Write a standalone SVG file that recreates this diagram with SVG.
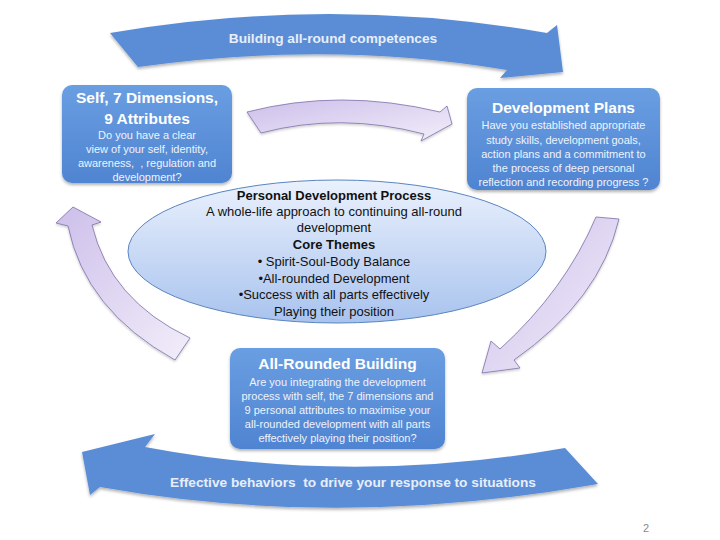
<svg xmlns="http://www.w3.org/2000/svg" width="720" height="540" viewBox="0 0 720 540">
<defs>
<style>
text{font-family:"Liberation Sans",Arial,sans-serif;text-anchor:middle}
.arr{fill:#5a8dd6;filter:url(#sh)}
.arrt{fill:#e8eef9;font-weight:bold;font-size:13.7px;white-space:pre}
.box{fill:url(#gb);filter:url(#sh)}
.bt{fill:#ffffff;font-weight:bold;font-size:15.5px}
.bb{fill:#eef3fc;font-size:11px}
.pur{fill:url(#gp);stroke:#7e6fa8;stroke-width:0.8;filter:url(#sh2)}
.et{fill:#111;font-size:13px}
.eb{font-weight:bold}
</style>
<linearGradient id="gb" x1="0" y1="0" x2="0" y2="1">
<stop offset="0" stop-color="#6a9ee2"/>
<stop offset="1" stop-color="#4f84d1"/>
</linearGradient>
<linearGradient id="ge" x1="0" y1="0" x2="0" y2="1">
<stop offset="0" stop-color="#eaf1fd"/>
<stop offset="1" stop-color="#a9c3ee"/>
</linearGradient>
<linearGradient id="gp" x1="0" y1="0" x2="1" y2="1">
<stop offset="0" stop-color="#cdbfea"/>
<stop offset="1" stop-color="#f2eefa"/>
</linearGradient>
<filter id="sh" x="-10%" y="-10%" width="120%" height="130%">
<feDropShadow dx="0" dy="2" stdDeviation="1.8" flood-color="#000" flood-opacity="0.3"/>
</filter>
<filter id="sh2" x="-10%" y="-10%" width="120%" height="130%">
<feDropShadow dx="0" dy="1.5" stdDeviation="1.2" flood-color="#000" flood-opacity="0.2"/>
</filter>
</defs>
<rect width="720" height="540" fill="#ffffff"/>

<g id="connectors">
<g id="arrow-top">
<path class="arr" d="M110,33 Q330,-5 547,33 L557,25 L563,72 L500,78 L507,70 Q330,40 138,67 Z"/>
<text class="arrt" x="333" y="43">Building all-round competences</text>
</g>
<g id="arrow-bottom">
<path class="arr" d="M155,434 L82,452 L90,495 L100,487 Q340,530 598,484 L565,448 Q350,486 145,447 Z"/>
<text class="arrt" x="353" y="487">Effective behaviors  to drive your response to situations</text>
</g>
<path id="purple-top" class="pur" d="M247,112 Q340,88 440,112 L447,106 L452,124 L421,141 L424,134 Q340,112 261,133 Z"/>
<path id="purple-right" class="pur" d="M596,217 L619,219 Q600,300 514,360 L520,368 L482,373 L491,341 L500,349 Q565,290 596,217 Z"/>
<path id="purple-left" class="pur" d="M73,207 L101,222 L92,225 Q110,300 190,338 L175,360 Q85,310 68,226 L56,223 Z"/>
</g>

<g id="center-ellipse">
<ellipse cx="337" cy="251.5" rx="209" ry="71.5" fill="url(#ge)" stroke="#5a85c0" stroke-width="1"/>
<text class="et eb" x="334" y="199.5">Personal Development Process</text>
<text class="et" x="334" y="215.5">A whole-life approach to continuing all-round</text>
<text class="et" x="334" y="232">development</text>
<text class="et eb" x="334" y="249">Core Themes</text>
<text class="et" x="334" y="266">• Spirit-Soul-Body Balance</text>
<text class="et" x="334" y="282.5">•All-rounded Development</text>
<text class="et" x="334" y="299">•Success with all parts effectively</text>
<text class="et" x="334" y="315.5">Playing their position</text>
</g>

<g id="box-self">
<rect class="box" x="62" y="85" width="170" height="98" rx="10"/>
<text class="bt" x="147" y="102.5">Self, 7 Dimensions,</text>
<text class="bt" x="147" y="123.5">9 Attributes</text>
<text class="bb" x="147" y="139">Do you have a clear</text>
<text class="bb" x="147" y="153">view of your self, identity,</text>
<text class="bb" x="147" y="167" style="white-space:pre">awareness,  , regulation and</text>
<text class="bb" x="147" y="181">development?</text>
</g>

<g id="box-plans">
<rect class="box" x="467" y="88" width="193" height="102" rx="10"/>
<text class="bt" x="563.5" y="113">Development Plans</text>
<text class="bb" x="563.5" y="129">Have you established appropriate</text>
<text class="bb" x="563.5" y="144">study skills, development goals,</text>
<text class="bb" x="563.5" y="158">action plans and a commitment to</text>
<text class="bb" x="563.5" y="172">the process of deep personal</text>
<text class="bb" x="563.5" y="186">reflection and recording progress ?</text>
</g>

<g id="box-building">
<rect class="box" x="230" y="348" width="215" height="101" rx="10"/>
<text class="bt" x="337.5" y="369">All-Rounded Building</text>
<text class="bb" x="337.5" y="386">Are you integrating the development</text>
<text class="bb" x="337.5" y="400">process with self, the 7 dimensions and</text>
<text class="bb" x="337.5" y="414">9 personal attributes to maximise your</text>
<text class="bb" x="337.5" y="428">all-rounded development with all parts</text>
<text class="bb" x="337.5" y="442">effectively playing their position?</text>
</g>

<text x="646" y="532" style="font-size:11px;fill:#8a8a8a">2</text>
</svg>
